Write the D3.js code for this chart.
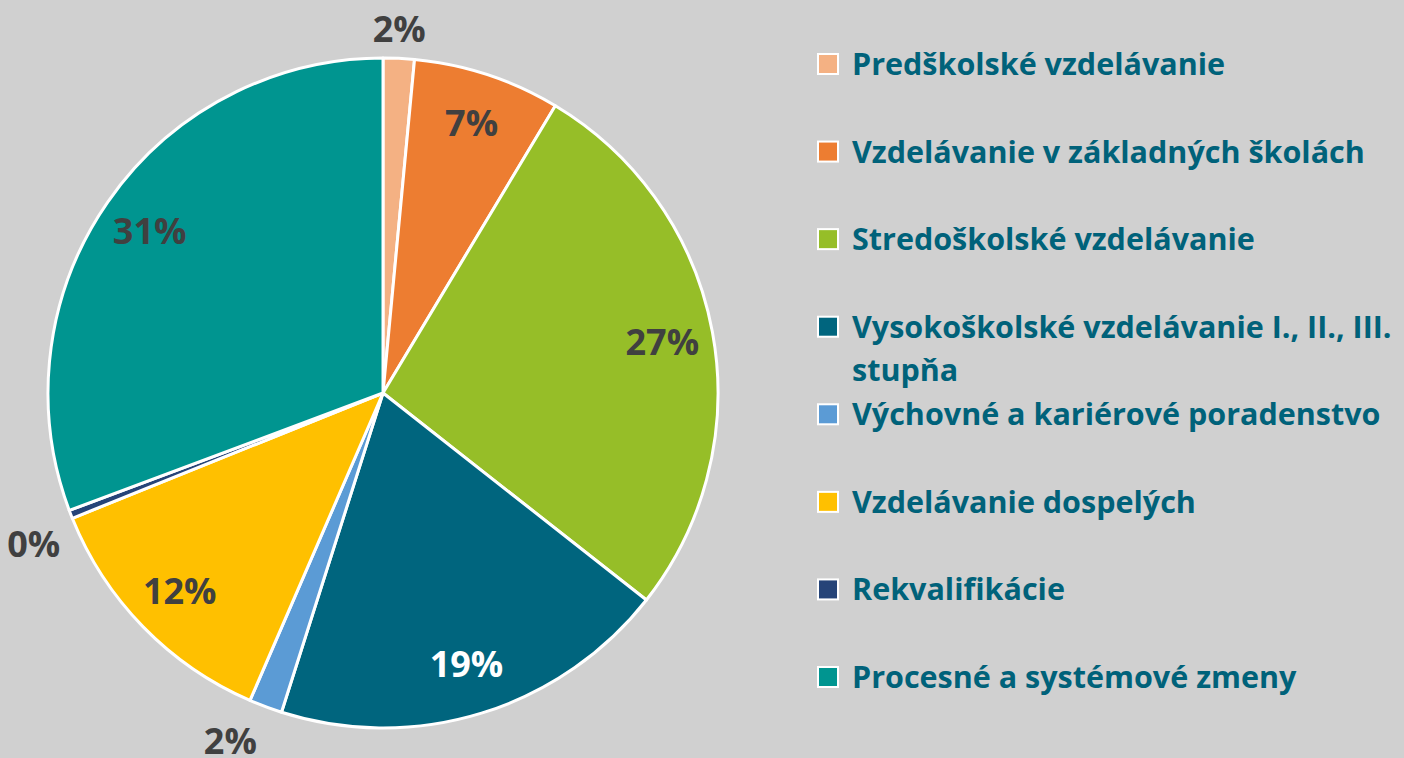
<!DOCTYPE html>
<html>
<head>
<meta charset="utf-8">
<script src="https://cdn.jsdelivr.net/npm/d3@7"></script>
<style>
  body { margin: 0; background: #d0d0d0; }
  svg { display: block; font-family: "Open Sans", Lato, sans-serif; font-weight: bold; }
</style>
</head>
<body>
<div id="chart"></div>
<script>
// categories and shares (percent)
const categories = [
  'Predškolské vzdelávanie',
  'Vzdelávanie v základných školách',
  'Stredoškolské vzdelávanie',
  'Vysokoškolské vzdelávanie I., II., III. stupňa',
  'Výchovné a kariérové poradenstvo',
  'Vzdelávanie dospelých',
  'Rekvalifikácie',
  'Procesné a systémové zmeny'
];
const shares = [1.5, 7.1, 27.0, 19.3, 1.6, 12.4, 0.4, 30.7];
// legend lines (the long one wraps like in the original)
const legendLines = [
  ['Predškolské vzdelávanie'],
  ['Vzdelávanie v základných školách'],
  ['Stredoškolské vzdelávanie'],
  ['Vysokoškolské vzdelávanie I., II., III.', 'stupňa'],
  ['Výchovné a kariérové poradenstvo'],
  ['Vzdelávanie dospelých'],
  ['Rekvalifikácie'],
  ['Procesné a systémové zmeny']
];
const colors = ['#f4b183', '#ed7d31', '#96be28', '#00657e', '#5b9bd5', '#ffc000', '#264478', '#009590'];

const width = 1404, height = 758;
const cx = 383, cy = 393, radius = 335;

const svg = d3.select('#chart')
  .append('svg')
  .attr('width', width)
  .attr('height', height);

svg.append('rect')
  .attr('width', width)
  .attr('height', height)
  .attr('fill', '#d0d0d0');

const data = categories.map((c, i) => ({ name: c, value: shares[i] }));

const pie = d3.pie().sort(null).value(d => d.value);
const arcs = pie(data);

const arc = d3.arc().innerRadius(0).outerRadius(radius);
const inLabel = d3.arc().innerRadius(284).outerRadius(284);
const outLabel = d3.arc().innerRadius(radius + 9).outerRadius(radius + 9);

const color = d3.scaleOrdinal().domain(categories).range(colors);

const g = svg.append('g')
  .attr('transform', `translate(${cx},${cy})`);

g.selectAll('path')
  .data(arcs)
  .join('path')
  .attr('d', arc)
  .attr('fill', d => color(d.data.name))
  .attr('stroke', '#fff')
  .attr('stroke-width', 3)
  .attr('stroke-linejoin', 'round');

// percentage labels, small slices go outside next to the rim
const isOut = d => d.data.value < 3;
const mid = d => (d.startAngle + d.endAngle) / 2;

const labels = g.selectAll('text.pct')
  .data(arcs)
  .join('text')
  .attr('class', 'pct')
  .attr('fill', d => d.data.name.startsWith('Vysoko') ? '#fff' : '#404040')
  .style('font-size', '36px')
  .text(d => Math.round(d.data.value) + '%');

labels.each(function(d) {
  const t = d3.select(this);
  if (!isOut(d)) {
    const [x, y] = inLabel.centroid(d);
    t.attr('x', x).attr('y', y).attr('dy', '0.36em').attr('text-anchor', 'middle');
    return;
  }
  const [x, y] = outLabel.centroid(d);
  const s = Math.sin(mid(d)), c = Math.cos(mid(d));
  let anchor = 'middle', tx = x;
  if (s < -0.3) { anchor = 'end'; tx = x - 6 * Math.abs(c); }
  else if (s > 0.3) { anchor = 'start'; tx = x + 6 * Math.abs(c); }
  let ty, dy;
  if (c > 0.3) { ty = y - 7; dy = '0em'; }
  else if (c < -0.3) { ty = y + 13; dy = '0.72em'; }
  else { ty = y; dy = '0.36em'; }
  t.attr('x', tx).attr('y', ty).attr('dy', dy).attr('text-anchor', anchor);
});

// legend
const ly = d3.scalePoint()
  .domain(categories)
  .range([64, 677]);

const legend = svg.selectAll('.legend')
  .data(categories)
  .join('g')
  .attr('class', 'legend')
  .attr('transform', d => `translate(818,${ly(d)})`);

legend.append('rect')
  .attr('x', 0)
  .attr('y', -10)
  .attr('width', 20)
  .attr('height', 20)
  .attr('fill', d => color(d))
  .attr('stroke', '#fff')
  .attr('stroke-width', 2);

legend.append('text')
  .attr('fill', '#00627a')
  .style('font-size', '30.5px')
  .selectAll('tspan')
  .data((d, i) => legendLines[i])
  .join('tspan')
  .attr('x', 34)
  .attr('y', (d, i) => i * 43)
  .attr('dy', '0.36em')
  .text(d => d);
</script>
</body>
</html>
